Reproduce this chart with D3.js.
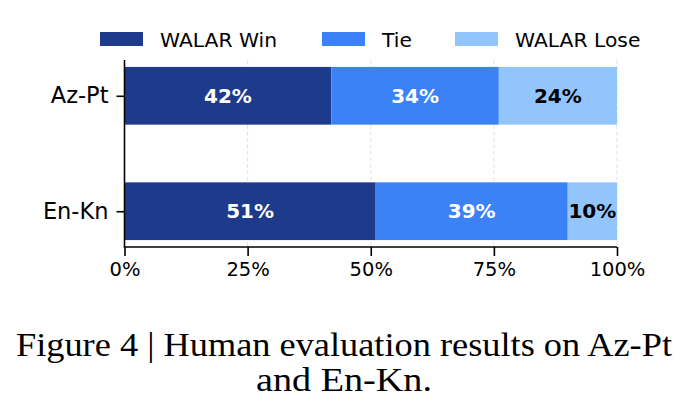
<!DOCTYPE html>
<html>
<head>
<meta charset="utf-8">
<script src="https://cdn.jsdelivr.net/npm/d3@7"></script>
<style>
  html, body { margin: 0; padding: 0; background: #fff; }
  svg { display: block; }
</style>
</head>
<body>
<svg id="chart" width="688" height="420"></svg>
<script>
const categories = ["Az-Pt", "En-Kn"];
const seriesNames = ["WALAR Win", "Tie", "WALAR Lose"];
const winValues = [42, 51];
const tieValues = [34, 39];
const loseValues = [24, 10];
const xTickValues = [0, 25, 50, 75, 100];
const xTickLabels = ["0%", "25%", "50%", "75%", "100%"];
const captionLines = ["Figure 4 | Human evaluation results on Az-Pt", "and En-Kn."];

const colors = ["#1e3a8a", "#3b82f6", "#93c5fd"];
const labelColors = ["#ffffff", "#ffffff", "#000000"];

const svg = d3.select("#chart");
const sans = "'DejaVu Sans', sans-serif";

const plot = { left: 124.5, right: 617, top: 60, bottom: 247 };

const x = d3.scaleLinear().domain([0, 100]).range([plot.left, plot.right]);
// positions: Az-Pt at 1 (top), En-Kn at 0 (bottom)
const yPos = d3.scaleLinear().domain([-0.31, 1.31]).range([plot.bottom, plot.top]);
const barH = 0.5;

const rows = categories.map((c, i) => ({
  cat: c,
  pos: categories.length - 1 - i,
  vals: [winValues[i], tieValues[i], loseValues[i]]
}));

// grid lines
const g = svg.append("g");
g.selectAll("line.grid").data(xTickValues.filter(v => v > 0)).enter().append("line")
  .attr("x1", d => x(d)).attr("x2", d => x(d))
  .attr("y1", plot.top).attr("y2", plot.bottom)
  .attr("stroke", "#e2e2e2").attr("stroke-width", 1)
  .attr("stroke-dasharray", "4,2.5");

// bars
rows.forEach(r => {
  let acc = 0;
  r.vals.forEach((v, k) => {
    const x0 = acc, x1 = acc + v;
    acc = x1;
    const yTop = yPos(r.pos + barH / 2), yBot = yPos(r.pos - barH / 2);
    g.append("rect")
      .attr("x", x(x0)).attr("y", yTop)
      .attr("width", x(x1) - x(x0)).attr("height", yBot - yTop)
      .attr("fill", colors[k]);
    g.append("text")
      .attr("x", (x(x0) + x(x1)) / 2)
      .attr("y", yPos(r.pos))
      .attr("dy", "0.36em")
      .attr("text-anchor", "middle")
      .attr("font-family", sans)
      .attr("font-weight", "bold")
      .attr("font-size", 20)
      .attr("fill", labelColors[k])
      .text(v + "%");
  });
});

// x axis
const xAxis = d3.axisBottom(x).tickValues(xTickValues)
  .tickFormat((d, i) => xTickLabels[i]).tickSizeOuter(0).tickSize(9).tickPadding(6);
const xg = svg.append("g").attr("transform", `translate(0,${plot.bottom})`).call(xAxis);
xg.select(".domain").attr("stroke", "#000").attr("stroke-width", 1.6)
  .attr("d", `M${plot.left - 0.8},0H${plot.right}`);
xg.selectAll(".tick line").attr("stroke", "#000").attr("stroke-width", 1.6);
xg.selectAll(".tick text").attr("font-family", sans).attr("font-size", 19.5).attr("fill", "#000");

// y axis
const yAxis = d3.axisLeft(yPos).tickValues(rows.map(r => r.pos))
  .tickFormat(p => rows.find(r => r.pos === p).cat).tickSizeOuter(0).tickSize(8).tickPadding(8);
const yg = svg.append("g").attr("transform", `translate(${plot.left},0)`).call(yAxis);
yg.select(".domain").attr("stroke", "#000").attr("stroke-width", 1.6)
  .attr("d", `M0,${plot.top}V${plot.bottom}`);
yg.selectAll(".tick line").attr("stroke", "#000").attr("stroke-width", 1.6);
yg.selectAll(".tick text").attr("font-family", sans).attr("font-size", 22.5).attr("fill", "#000");

// legend
const legendX = [100, 322, 455];
const lg = svg.append("g");
seriesNames.forEach((n, k) => {
  lg.append("rect").attr("x", legendX[k]).attr("y", 32).attr("width", 43).attr("height", 14)
    .attr("fill", colors[k]);
  lg.append("text").attr("x", legendX[k] + 60).attr("y", 46.5)
    .attr("font-family", sans).attr("font-size", 20.3).attr("fill", "#000").text(n);
});

// caption
const serif = "'Liberation Serif', 'Times New Roman', serif";
const capY = [356, 391];
captionLines.forEach((t, i) => {
  svg.append("text")
    .attr("x", 344).attr("y", capY[i])
    .attr("text-anchor", "middle")
    .attr("font-family", serif)
    .attr("font-size", 33)
    .attr("fill", "#000")
    .text(t);
});
// stretch caption lines to match the reference widths
const targets = [656, 176];
svg.selectAll("text").filter(function() { return captionLines.includes(this.textContent); })
  .each(function() {
    const el = d3.select(this);
    const len = this.getComputedTextLength();
    const tgt = targets[captionLines.indexOf(this.textContent)];
    el.attr("textLength", tgt).attr("lengthAdjust", "spacingAndGlyphs");
  });
</script>
</body>
</html>
